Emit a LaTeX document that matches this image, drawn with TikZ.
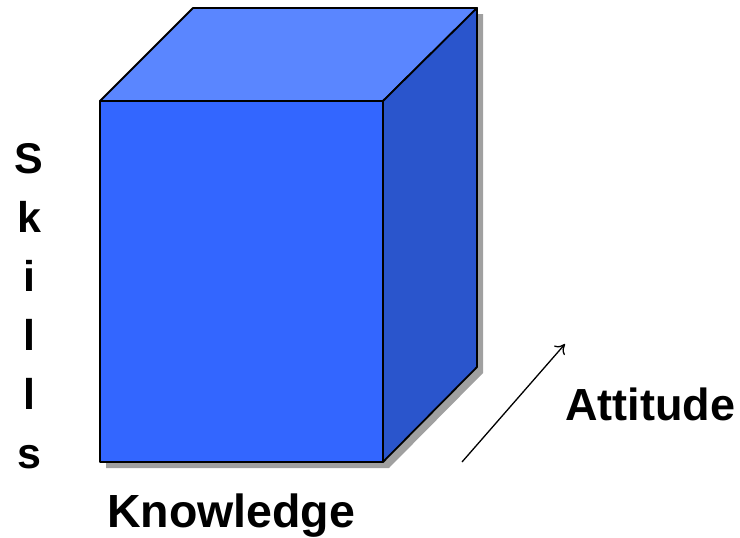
\documentclass[tikz,border=0pt]{standalone}
\usepackage{fontspec}
\setmainfont{Liberation Sans}
\usetikzlibrary{arrows.meta}
\definecolor{frontc}{HTML}{3366FF}
\definecolor{topc}{HTML}{5A86FF}
\definecolor{sidec}{HTML}{2A55CC}
\definecolor{shadowc}{HTML}{A0A0A0}
\tikzset{
  face/.style={draw=black, line width=1.8pt, line join=round},
  lbl/.style={font=\fontsize{45}{54}\selectfont\bfseries, inner sep=0pt, anchor=base west},
  skl/.style={font=\fontsize{43}{52}\selectfont\bfseries, inner sep=0pt, anchor=base},
}
\begin{document}
\begin{tikzpicture}[x=1pt,y=-1pt]
\useasboundingbox (0,0) rectangle (740,538);
% shadow
\fill[shadowc] (106,107) -- (199,14) -- (483,14) -- (483,373) -- (389,468) -- (106,468) -- cycle;
% faces
\filldraw[face, fill=frontc] (100,101) rectangle (383,462);
\filldraw[face, fill=topc] (100,101) -- (193,8) -- (477,8) -- (383,101) -- cycle;
\filldraw[face, fill=sidec] (383,101) -- (477,8) -- (477,367) -- (383,462) -- cycle;
% labels
\node[skl] (s1) at (29,173) {S};
\node[skl] (s2) at (29,232) {k};
\node[skl] (s3) at (29,291) {i};
\node[skl] (s4) at (29,350) {l};
\node[skl] (s5) at (29,409) {l};
\node[skl] (s6) at (29,468) {s};
\node[lbl, font=\fontsize{46.5}{55}\selectfont\bfseries] (know) at (107,527) {Knowledge};
\node[lbl] (att) at (565,420) {Attitude};
% arrow
\coordinate (a0) at (462,462);
\coordinate (a1) at (565,344);
\draw[line width=1.3pt, -{To[length=9pt,width=14pt]}] (a0) -- (a1);
\end{tikzpicture}
\end{document}
